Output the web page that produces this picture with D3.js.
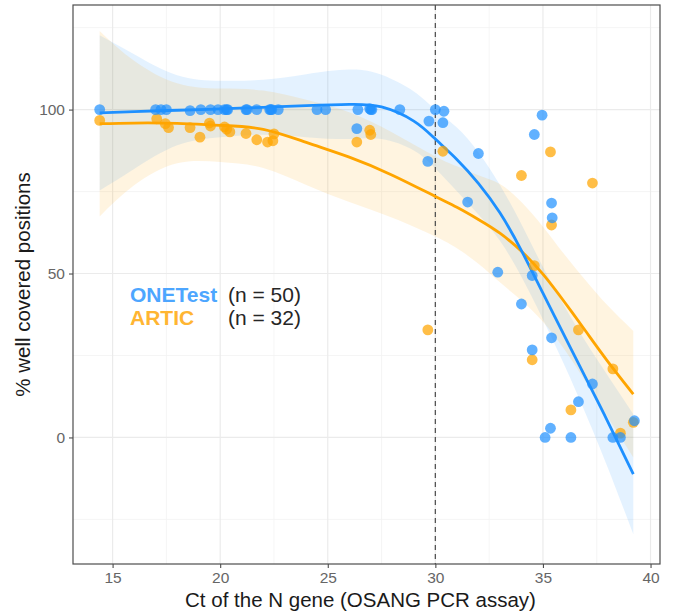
<!DOCTYPE html>
<html>
<head>
<meta charset="utf-8">
<script src="https://cdn.jsdelivr.net/npm/d3@7"></script>
<style>
  html, body { margin: 0; padding: 0; background: #fff; }
  svg { display: block; font-family: "Liberation Sans", Arial, Helvetica, sans-serif; }
</style>
</head>
<body>
<svg id="chart" width="674" height="614"></svg>
<script>
// ---------------- data ----------------
const xTicks = [15, 20, 25, 30, 35, 40];
const xMinor = [17.5, 22.5, 27.5, 32.5, 37.5];
const yTicks = [0, 50, 100];
const yMinor = [-25, 25, 75, 125];
const cutoff = 30;

const oneTestPoints = [
  [14.4,100],[17.0,100],[17.25,100],[17.5,100],[18.6,99.7],[19.1,100],[19.55,100],[19.9,100],
  [20.2,100],[20.3,100],[20.35,100],[21.2,100],[21.25,100],[21.7,100],[22.3,100],[22.35,100],[22.4,100],
  [22.7,100],[24.5,100],[24.9,100],[26.4,100],[26.95,100.3],[27.0,100],[27.05,100],[28.35,100],
  [30.0,100],[30.4,99.5],[29.7,96.5],[30.35,96],[26.35,94.2],[29.65,84.2],[32.0,86.6],[31.5,71.8],
  [34.96,98.3],[34.6,92.4],[35.4,71.5],[35.43,67],[32.9,50.4],[34.5,49.4],[34.0,40.7],[35.4,30.4],
  [34.5,26.7],[37.3,16.3],[36.65,10.9],[35.35,2.8],[35.1,0],[36.3,0],[38.25,0],[38.6,0],[39.25,5.1]
];
const articPoints = [
  [14.4,96.7],[17.05,97.2],[17.45,95.7],[17.6,94.5],[18.6,94.5],[19.06,91.6],[19.5,95.9],[19.55,95],
  [20.2,94.7],[20.3,94],[20.45,93.2],[21.2,92.7],[21.7,90.8],[22.2,90.1],[22.45,90.5],[22.5,92.6],
  [26.95,93.7],[27.0,92.4],[26.35,90.1],[30.35,87.3],[35.35,87.1],[34.0,79.9],[37.3,77.6],[35.4,64.8],
  [34.6,52.4],[29.65,32.8],[36.65,32.8],[34.5,23.7],[38.25,20.9],[36.3,8.4],[38.6,1.3],[39.2,4.6]
];

// smoothed fits
const oneTestSmoothX  = [14.4, 16, 18, 20, 22, 24, 26, 27.5, 29, 30, 31, 32, 33, 34, 35, 36, 37, 38, 39.2];
const oneTestFit      = [99.0, 99.4, 99.8, 100.2, 100.7, 101.2, 101.6, 100.8, 96.5, 91.0, 84.8, 77.5, 68.5, 57.0, 44.0, 31.0, 18.0, 5.0, -11.2];
const oneTestLower    = [75.3, 81.9, 89.1, 91.6, 92.3, 91.6, 91.0, 91.0, 87.5, 82.0, 75.1, 68.0, 60.0, 49.0, 36.0, 22.0, 7.0, -9.0, -29.5];
const oneTestUpper    = [122.7, 116.9, 110.5, 108.8, 109.1, 110.8, 112.2, 110.6, 105.5, 100.0, 94.5, 87.0, 77.0, 65.0, 52.0, 40.0, 29.0, 19.0, 7.1];

const articSmoothX = [14.4, 16, 18, 20, 22, 24, 26, 28, 30, 31, 32, 33, 34, 35, 36, 37, 38, 39.2];
const articFit     = [95.7, 95.9, 95.8, 95.2, 94.0, 90.0, 85.5, 80.0, 73.5, 70.2, 66.5, 62.3, 56.8, 49.8, 41.3, 32.3, 23.3, 13.2];
const articLower   = [67.4, 76.9, 83.6, 84.0, 82.2, 77.0, 71.8, 67.0, 61.3, 57.7, 53.0, 47.3, 41.8, 35.3, 26.8, 16.8, 6.3, -6.1];
const articUpper   = [124.0, 114.9, 108.0, 106.4, 105.8, 103.0, 99.2, 93.0, 85.7, 82.7, 80.0, 77.3, 71.8, 64.3, 55.8, 47.8, 40.3, 32.5];

const legendNames = ["ONETest", "ARTIC"];
const legendCounts = ["(n = 50)", "(n = 32)"];

// ---------------- layout ----------------
const W = 674, H = 614;
const P = { left: 73, right: 660, top: 5, bottom: 564 };
const blue = "#1E90FF", orange = "#FFA500";

const svg = d3.select("#chart");
const x = d3.scaleLinear().domain([13.16, 40.44]).range([P.left, P.right]);
const y = d3.scaleLinear().domain([-38.6, 131.9]).range([P.bottom, P.top]);

svg.append("rect").attr("x", P.left).attr("y", P.top)
  .attr("width", P.right - P.left).attr("height", P.bottom - P.top).attr("fill", "#fff");

svg.append("clipPath").attr("id", "clip").append("rect")
  .attr("x", P.left).attr("y", P.top).attr("width", P.right - P.left).attr("height", P.bottom - P.top);

// grid
const grid = svg.append("g");
grid.selectAll(".xm").data(xMinor).join("line")
  .attr("x1", d => x(d)).attr("x2", d => x(d)).attr("y1", P.top).attr("y2", P.bottom)
  .attr("stroke", "#f3f3f3").attr("stroke-width", 0.8);
grid.selectAll(".ym").data(yMinor).join("line")
  .attr("y1", d => y(d)).attr("y2", d => y(d)).attr("x1", P.left).attr("x2", P.right)
  .attr("stroke", "#f3f3f3").attr("stroke-width", 0.8);
grid.selectAll(".xM").data(xTicks).join("line")
  .attr("x1", d => x(d)).attr("x2", d => x(d)).attr("y1", P.top).attr("y2", P.bottom)
  .attr("stroke", "#ebebeb").attr("stroke-width", 1.2);
grid.selectAll(".yM").data(yTicks).join("line")
  .attr("y1", d => y(d)).attr("y2", d => y(d)).attr("x1", P.left).attr("x2", P.right)
  .attr("stroke", "#ebebeb").attr("stroke-width", 1.2);

const plot = svg.append("g").attr("clip-path", "url(#clip)");

function ribbon(xs, lo, hi, color) {
  const data = xs.map((d, i) => ({ x: d, lo: lo[i], hi: hi[i] }));
  const area = d3.area().x(d => x(d.x)).y0(d => y(d.lo)).y1(d => y(d.hi)).curve(d3.curveNatural);
  plot.append("path").datum(data).attr("d", area).attr("fill", color).attr("fill-opacity", 0.12);
}
function fitLine(xs, ys, color) {
  const data = xs.map((d, i) => ({ x: d, y: ys[i] }));
  const line = d3.line().x(d => x(d.x)).y(d => y(d.y)).curve(d3.curveNatural);
  plot.append("path").datum(data).attr("d", line).attr("fill", "none")
    .attr("stroke", color).attr("stroke-width", 2.8).attr("stroke-linecap", "butt");
}

ribbon(oneTestSmoothX, oneTestLower, oneTestUpper, blue);
ribbon(articSmoothX, articLower, articUpper, orange);

plot.append("line").attr("x1", x(cutoff)).attr("x2", x(cutoff)).attr("y1", P.top).attr("y2", P.bottom)
  .attr("stroke", "#555").attr("stroke-width", 1.3).attr("stroke-dasharray", "5,4");

fitLine(articSmoothX, articFit, orange);
fitLine(oneTestSmoothX, oneTestFit, blue);

plot.append("g").selectAll("circle").data(articPoints).join("circle")
  .attr("cx", d => x(d[0])).attr("cy", d => y(d[1])).attr("r", 5.4)
  .attr("fill", orange).attr("fill-opacity", 0.72);
plot.append("g").selectAll("circle").data(oneTestPoints).join("circle")
  .attr("cx", d => x(d[0])).attr("cy", d => y(d[1])).attr("r", 5.4)
  .attr("fill", blue).attr("fill-opacity", 0.7);

// panel border
svg.append("rect").attr("x", P.left).attr("y", P.top)
  .attr("width", P.right - P.left).attr("height", P.bottom - P.top)
  .attr("fill", "none").attr("stroke", "#4d4d4d").attr("stroke-width", 1.2);

// axes
const xAxis = svg.append("g").attr("transform", `translate(0,${P.bottom})`)
  .call(d3.axisBottom(x).tickValues(xTicks).tickSize(4).tickPadding(4).tickFormat(d3.format("d")));
const yAxis = svg.append("g").attr("transform", `translate(${P.left},0)`)
  .call(d3.axisLeft(y).tickValues(yTicks).tickSize(4).tickPadding(4).tickFormat(d3.format("d")));
[xAxis, yAxis].forEach(g => {
  g.select(".domain").remove();
  g.selectAll(".tick line").attr("stroke", "#4d4d4d").attr("stroke-width", 1.1);
  g.selectAll(".tick text").attr("fill", "#666").style("font-size", "15.5px")
    .style("font-family", '"Liberation Sans", Arial, sans-serif');
});

// axis titles
svg.append("text").attr("x", (P.left + P.right) / 2 - 6).attr("y", 607)
  .attr("text-anchor", "middle").attr("fill", "#1a1a1a").style("font-size", "20.5px")
  .text("Ct of the N gene (OSANG PCR assay)");
svg.append("text").attr("transform", `translate(30,${(P.top + P.bottom) / 2}) rotate(-90)`)
  .attr("text-anchor", "middle").attr("fill", "#1a1a1a").style("font-size", "20.5px")
  .text("% well covered positions");

// legend-like annotation
const legColors = ["#4DA6FF", "#FFB532"];
const legY = [302, 325];
legendNames.forEach((n, i) => {
  svg.append("text").attr("x", 130).attr("y", legY[i]).attr("fill", legColors[i])
    .style("font-size", "21px").style("font-weight", "bold").text(n);
  svg.append("text").attr("x", 228).attr("y", legY[i]).attr("fill", "#262626")
    .style("font-size", "21px").text(legendCounts[i]);
});
</script>
</body>
</html>
